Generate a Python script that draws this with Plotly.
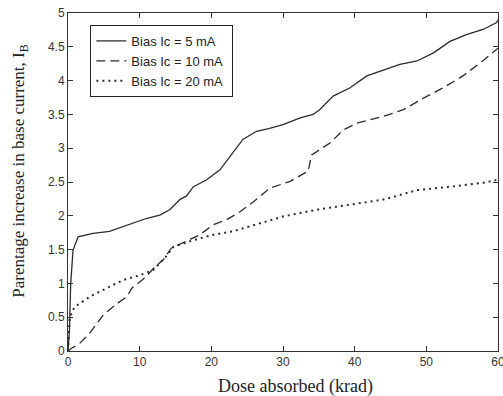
import plotly.graph_objects as go

# Dose (krad) and percentage increase in base current for each bias
x_5ma = [0, 0.2, 0.38, 0.7, 1.4, 2.1, 3.5, 5.8, 7.2, 9.1, 10.9, 12.8, 14.2, 15.6, 16.5, 17.5,
         19.3, 21.2, 23.0, 24.4, 26.3, 28.0, 30.0, 32.4, 34.2, 35.1, 37.0, 39.3, 41.7, 44.0,
         46.3, 48.7, 51.0, 53.3, 55.6, 58.0, 59.8, 60]
y_5ma = [0, 0.3, 1.0, 1.49, 1.69, 1.71, 1.74, 1.77, 1.82, 1.89, 1.96, 2.01, 2.09, 2.24, 2.29, 2.43,
         2.53, 2.68, 2.93, 3.13, 3.25, 3.29, 3.35, 3.45, 3.5, 3.57, 3.77, 3.89, 4.07, 4.16,
         4.24, 4.29, 4.41, 4.58, 4.68, 4.76, 4.86, 4.9]

x_10ma = [0, 0.5, 1.6, 3.0, 4.9, 6.8, 8.2, 8.9, 10.0, 10.9, 11.9, 13.3, 14.4, 16.5, 18.4, 20.3,
          22.1, 24.0, 25.8, 28.2, 31.0, 33.5, 34.0, 36.6, 38.4, 40.3, 44.0, 46.8, 49.6, 52.3,
          55.1, 57.5, 59.8, 60]
y_10ma = [0, 0.04, 0.11, 0.26, 0.53, 0.7, 0.8, 0.93, 1.02, 1.1, 1.22, 1.35, 1.52, 1.62, 1.72, 1.87,
          1.94, 2.06, 2.2, 2.41, 2.51, 2.66, 2.9, 3.08, 3.27, 3.37, 3.47, 3.57, 3.74, 3.89,
          4.07, 4.26, 4.46, 4.48]

x_20ma = [0, 0.24, 0.9, 3.0, 5.4, 7.7, 10.0, 11.9, 13.7, 14.7, 17.5, 20.3, 23.0, 26.8, 30.0,
          34.7, 39.3, 44.0, 45.4, 48.7, 53.3, 58.0, 59.8, 60]
y_20ma = [0, 0.5, 0.65, 0.8, 0.93, 1.05, 1.12, 1.2, 1.4, 1.54, 1.64, 1.72, 1.77, 1.89, 1.99,
          2.09, 2.16, 2.24, 2.28, 2.38, 2.43, 2.49, 2.53, 2.53]

names = ["Bias Ic = 5 mA", "Bias Ic = 10 mA", "Bias Ic = 20 mA"]
x_ticks = [0, 10, 20, 30, 40, 50, 60]
y_ticks = [0, 0.5, 1, 1.5, 2, 2.5, 3, 3.5, 4, 4.5, 5]
y_tick_text = ["0", "0.5", "1", "1.5", "2", "2.5", "3", "3.5", "4", "4.5", "5"]
x_title = "Dose absorbed (krad)"
y_title = "Parentage increase in base current, I<sub>B</sub>"

pad = "\u00a0"  # small right padding inside the legend box
line_col = "#2b2b2b"
fig = go.Figure()
fig.add_trace(go.Scatter(x=x_5ma, y=y_5ma, mode="lines", name=names[0] + pad,
                         line=dict(color=line_col, width=1.3)))
fig.add_trace(go.Scatter(x=x_10ma, y=y_10ma, mode="lines", name=names[1] + pad,
                         line=dict(color=line_col, width=1.3, dash="9px,5px")))
fig.add_trace(go.Scatter(x=x_20ma, y=y_20ma, mode="lines", name=names[2] + pad,
                         line=dict(color=line_col, width=2, dash="2px,4px")))

axis_common = dict(showline=True, linecolor="#333", linewidth=1, mirror="ticks",
                   ticks="inside", ticklen=5, tickcolor="#333", showgrid=False,
                   zeroline=False, ticklabeloverflow="allow", automargin=False,
                   tickfont=dict(family="Liberation Sans", size=12, color="#333"))

title_font = dict(family="Liberation Serif", color="#222")
fig.update_layout(
    width=503, height=396,
    margin=dict(l=68, r=5, t=13, b=45),
    paper_bgcolor="white", plot_bgcolor="white",
    xaxis=dict(range=[0, 60], tickvals=x_ticks, **axis_common),
    yaxis=dict(range=[0, 5], tickvals=y_ticks, ticktext=y_tick_text, **axis_common),
    legend=dict(x=0.052, y=0.9645, xanchor="left", yanchor="top",
                bordercolor="#222", borderwidth=1, bgcolor="white",
                font=dict(family="Liberation Sans", size=13, color="#222"),
                tracegroupgap=0, itemwidth=30),
    showlegend=True,
    annotations=[
        dict(text=x_title, xref="paper", yref="paper", x=0.528, y=-0.104,
             xanchor="center", yanchor="middle", showarrow=False,
             font=dict(size=18, **title_font)),
        dict(text=y_title, xref="paper", yref="paper", x=-0.112, y=0.533,
             xanchor="center", yanchor="middle", showarrow=False, textangle=-90,
             font=dict(size=17, **title_font)),
    ],
)

fig.write_html("out.html", config={"displayModeBar": False},
               post_script="document.body.style.margin='0';")
